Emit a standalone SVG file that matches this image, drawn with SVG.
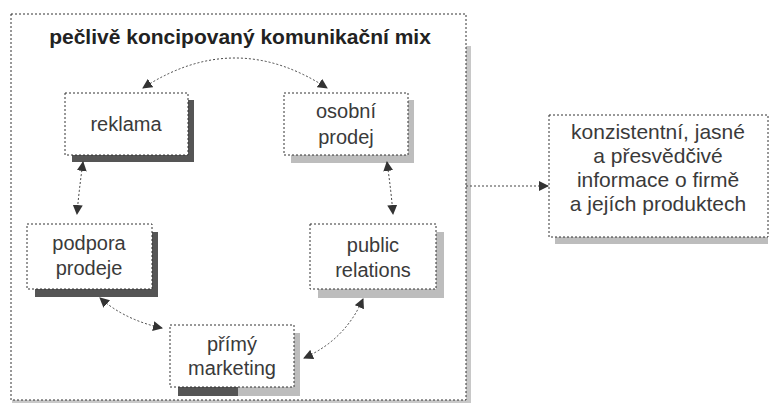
<svg xmlns="http://www.w3.org/2000/svg" width="771" height="410" viewBox="0 0 771 410">
<style>
.box{fill:#fff;stroke:#333;stroke-width:1;stroke-dasharray:2 2}
.sd{fill:#555}
.sl{fill:#bdbdbd}
.t{font-family:"Liberation Sans",Arial,sans-serif;font-size:20px;fill:#3a3a3a;text-anchor:middle}
.r{font-size:21px}
.title{font-family:"Liberation Sans",Arial,sans-serif;font-size:21px;font-weight:bold;fill:#222;text-anchor:middle}
.c{fill:none;stroke:#444;stroke-width:1;stroke-dasharray:2 2}
</style>
<defs>
<marker id="ah" viewBox="0 0 10 10" refX="9" refY="5" markerWidth="10" markerHeight="10" orient="auto-start-reverse" markerUnits="userSpaceOnUse">
<path d="M0,0 L10,5 L0,10 z" fill="#333"/>
</marker>
</defs>
<rect width="771" height="410" fill="#fff"/>
<g id="frame">
<rect x="463" y="46" width="8" height="356" fill="#c8c8c8"/>
<rect x="12" y="400" width="459" height="3" fill="#c8c8c8"/>
<rect class="box" x="11" y="14" width="455" height="386"/>
<text class="title" x="240" y="44">pečlivě koncipovaný komunikační mix</text>
</g>
<g id="reklama">
<rect class="sd" x="72" y="100" width="122" height="62"/>
<rect class="box" x="65" y="93" width="123" height="62"/>
<text class="t" x="126" y="131">reklama</text>
</g>
<g id="osobni-prodej">
<rect class="sl" x="291" y="100" width="123" height="63"/>
<rect class="box" x="284" y="93" width="124" height="62"/>
<text class="t" x="346" y="118">osobní</text>
<text class="t" x="346" y="144">prodej</text>
</g>
<g id="podpora-prodeje">
<rect class="sd" x="35" y="232" width="123" height="65"/>
<rect class="box" x="27" y="224" width="125" height="65"/>
<text class="t" x="89" y="250">podpora</text>
<text class="t" x="89" y="275">prodeje</text>
</g>
<g id="public-relations">
<rect class="sl" x="318" y="232" width="126" height="66"/>
<rect class="box" x="310" y="224" width="126" height="65"/>
<text class="t" x="373" y="252">public</text>
<text class="t" x="373" y="277">relations</text>
</g>
<g id="primy-marketing">
<rect class="sl" x="178" y="333" width="122" height="63"/>
<rect class="sd" x="178" y="387" width="60" height="9"/>
<rect class="box" x="170" y="325" width="124" height="62"/>
<text class="t" x="232" y="351">přímý</text>
<text class="t" x="232" y="375">marketing</text>
</g>
<g id="informace">
<rect class="sl" x="555" y="236" width="213" height="8"/>
<rect class="box" x="549" y="115" width="219" height="122"/>
<text class="t r" x="658" y="139">konzistentní, jasné</text>
<text class="t r" x="658" y="163">a přesvědčivé</text>
<text class="t r" x="658" y="187">informace o firmě</text>
<text class="t r" x="658" y="211">a jejích produktech</text>
</g>
<g id="connectors">
<path class="c" d="M143,88 Q235,28 327,88" marker-start="url(#ah)" marker-end="url(#ah)"/>
<path class="c" d="M83,162 Q79,190 77,214" marker-start="url(#ah)" marker-end="url(#ah)"/>
<path class="c" d="M387,162 Q391,190 393,214" marker-start="url(#ah)" marker-end="url(#ah)"/>
<path class="c" d="M100,298 Q125,320 162,328" marker-start="url(#ah)" marker-end="url(#ah)"/>
<path class="c" d="M363,299 Q345,340 304,358" marker-start="url(#ah)" marker-end="url(#ah)"/>
<path class="c" d="M466,186 L548,186" marker-end="url(#ah)"/>
</g>
</svg>
